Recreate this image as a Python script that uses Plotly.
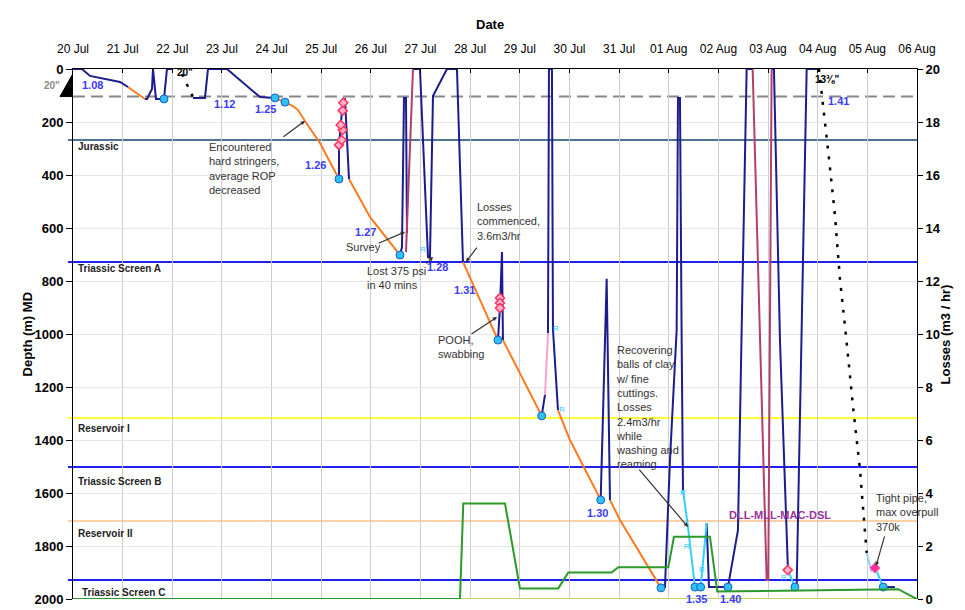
import plotly.graph_objects as go

YEAR = "2007-"


def ts(values):
    return [None if v is None else YEAR + v for v in values]


# ---------------- data ----------------
# bit position while tripping / circulating (navy)
trip_time = ts([
    "07-20 00:00", "07-20 04:21", "07-20 08:13", "07-20 13:03", "07-20 22:43", "07-21 02:35", None,
    "07-21 10:48", "07-21 11:46", "07-21 14:11", "07-21 14:40", "07-21 16:07", "07-21 19:59", "07-21 21:26", "07-22 00:20", None,
    "07-22 10:00", "07-22 15:48", "07-22 17:15", "07-23 02:26", "07-23 18:23", "07-24 01:38", None,
    "07-25 08:35", "07-25 08:36", "07-25 10:31", "07-25 11:29", "07-25 13:25", None,
    "07-26 14:04", "07-26 15:02", "07-26 16:00", "07-26 16:58", "07-26 17:27", None,
    "07-26 20:21", "07-26 23:44", "07-27 03:36", "07-27 04:34", "07-27 06:01", "07-27 12:47", "07-27 17:37", "07-27 20:31", None,
    "07-28 13:26", "07-28 14:24", "07-28 15:22", "07-28 15:51", None,
    "07-29 10:34", "07-29 12:10", None,
    "07-29 13:37", "07-29 14:05", "07-29 15:32", "07-29 16:01", "07-29 18:26", None,
    "07-30 15:05", "07-30 17:59", "07-30 19:35", None,
    "07-31 20:14", "07-31 22:10", "08-01 00:35", "08-01 03:49", "08-01 04:27", "08-01 05:25", "08-01 06:14", "08-01 06:52", None,
    "08-01 18:19", "08-01 19:26", "08-02 04:37", "08-02 09:27", "08-02 11:14", "08-02 13:39", "08-02 16:33", None,
    "08-03 01:44", "08-03 02:51", "08-03 05:45", "08-03 09:37", None,
    "08-03 13:00", "08-03 13:50", "08-03 16:14", "08-03 18:40", "08-04 00:36", None,
    "08-05 07:41", "08-05 13:20"])
trip_depth = [
    0, 0, 26, 34, 49, 68, None,
    113, 113, 75, 0, 113, 113, 0, 0, None,
    109, 109, 0, 0, 106, 109, None,
    415, 287, 113, 113, 415, None,
    702, 672, 109, 109, 619, None,
    0, 0, 709, 709, 102, 0, 0, 728, None,
    1023, 898, 691, 1023, None,
    1309, 1230, None,
    996, 0, 0, 981, 1287, None,
    1626, 792, 1626, None,
    1958, 1955, 1475, 985, 109, 109, 1023, 1589, None,
    1713, 1955, 1955, 1740, 985, 0, 0, None,
    0, 0, 1023, 1891, None,
    1955, 1955, 985, 0, 0, None,
    1955, 1955]

# drilling progress (orange)
drill_time = ts([
    "07-21 02:35", "07-21 10:48", None,
    "07-24 01:38", "07-24 06:29", "07-24 10:20", "07-24 12:46", "07-24 14:41", "07-24 16:08", "07-24 23:23", "07-25 08:35", None,
    "07-25 13:25", "07-25 23:34", "07-26 14:04", None,
    "07-27 03:36", "07-27 05:32", None,
    "07-27 20:31", "07-28 13:26", None,
    "07-28 15:51", "07-29 10:34", None,
    "07-29 18:26", "07-30 00:14", "07-30 15:05", None,
    "07-30 19:35", "07-31 00:25", "07-31 20:14"])
drill_depth = [
    68, 113, None,
    109, 125, 140, 155, 181, 196, 279, 415, None,
    415, 558, 702, None,
    709, 721, None,
    728, 1023, None,
    1023, 1309, None,
    1287, 1400, 1626, None,
    1626, 1702, 1958]

# logging runs (maroon)
log_time = ts(["07-26 16:58", "07-26 20:21", None,
               "08-02 16:33", "08-02 23:19", "08-03 00:06", "08-03 01:44"])
log_depth = [691, 0, None, 0, 1928, 1928, 0]

# reaming / washing (cyan)
ream_time = ts(["08-01 06:52", "08-01 09:17", "08-01 12:40", None,
                "08-01 15:25", "08-01 18:19", None,
                "08-03 09:37", "08-03 13:00", None,
                "08-05 04:38", "08-05 07:41"])
ream_depth = [1589, 1728, 1955, None, 1955, 1713, None, 1891, 1955, None, 1898, 1955]

wash_time = ts(["08-04 23:40", "08-05 02:05"])
wash_depth = [1826, 1898]

swab_time = ts(["07-29 12:10", "07-29 13:37"])
swab_depth = [1230, 996]

# casing runs (black dotted)
casing_time = ts(["07-22 04:41", "07-22 10:00", None,
                  "08-04 00:36", "08-04 01:55", "08-04 05:06", "08-04 08:20", "08-04 10:45",
                  "08-04 13:59", "08-04 17:11", "08-04 20:25", "08-04 22:50", "08-04 23:40"])
casing_depth = [19, 106, None, 0, 99, 312, 551, 792, 1030, 1283, 1509, 1736, 1826]

# bit run markers
bit_time = ts(["07-21 19:59", "07-24 01:38", "07-24 06:29", "07-25 08:35", "07-26 14:04", "07-28 13:26",
               "07-29 10:34", "07-30 15:05", "07-31 20:14", "08-01 12:40", "08-01 15:25", "08-02 04:37",
               "08-03 13:00", "08-05 07:41"])
bit_depth = [113, 109, 125, 415, 702, 1023, 1309, 1626, 1958, 1955, 1955, 1955, 1955, 1955]

# event flags (pink diamonds)
flag_time = ts(["07-25 08:35", "07-25 09:53", "07-25 10:22", "07-25 09:24", "07-25 10:22", "07-25 10:40",
                "07-28 14:24", "07-28 14:24", "07-28 14:24", "08-03 09:29"])
flag_depth = [287, 268, 230, 211, 157, 127, 864, 883, 902, 1891]
tight_time = ts(["08-05 03:40"])
tight_depth = [1883]

# losses (right axis)
loss_time = ts(["07-20 00:00", "07-27 19:04", "07-27 20:40", "07-28 16:50", "07-29 00:04", "07-29 18:35",
                "07-29 23:25", "07-30 20:24", "07-30 23:35", "07-31 23:46", "08-01 02:31", "08-01 19:55",
                "08-01 23:26", "08-05 14:56", "08-05 23:50"])
loss_rate = [0, 0, 3.6, 3.6, 0.4, 0.4, 1.0, 1.0, 1.2, 1.2, 2.35, 2.35, 0.28, 0.37, 0]

# bit run labels
run_labels = ["1.08", "1.12", "1.25", "1.26", "1.27", "1.28", "1.31", "1.30", "1.35", "1.40", "1.41"]
run_label_time = ts(["07-20 09:26", "07-23 01:00", "07-23 21:12", "07-24 21:28", "07-25 21:10", "07-27 08:26",
                     "07-27 21:29", "07-30 13:47", "08-01 13:29", "08-02 05:36", "08-04 09:56"])
run_label_depth = [60, 133, 152, 362, 614, 748, 834, 1677, 2000, 2000, 119]

# reaming flags "R"
r_time = ts(["07-27 01:11", "07-29 17:29", "07-29 20:22", "08-01 06:52", "08-01 08:40", "08-01 16:04", "08-03 07:42"])
r_depth = [683, 981, 1287, 1600, 1804, 1891, 1921]

# formations
formation_names = ["Jurassic", "Triassic Screen A", "Reservoir I", "Triassic Screen B", "Reservoir II", "Triassic Screen C"]
formation_depth = [268, 728, 1317, 1502, 1706, 1928]
formation_label_depth = [294, 751, 1358, 1558, 1751, 1974]
formation_colors = ["#4f7394", "#2020f0", "#ffff33", "#2020f0", "#ffcfa8", "#2020f0"]
shoe_depth = 104
td_depth = 2000

# notes: text, text time, text depth, tail time, tail depth, head time, head depth
notes = [
    ("Encountered<br>hard stringers,<br>average ROP<br>decreased", "07-22 16:47", 377, "07-24 05:02", 260, "07-24 16:08", 196),
    ("Survey", "07-25 11:00", 672, "07-26 02:57", 660, "07-26 16:29", 615),
    ("Lost 375 psi<br>in 40 mins", "07-25 21:09", 789, "07-27 02:10", 740, "07-27 06:01", 709),
    ("Losses<br>commenced,<br>3.6m3/hr", "07-28 02:20", 574, "07-28 03:47", 668, "07-27 21:58", 728),
    ("POOH,<br>swabbing", "07-27 07:28", 1049, "07-27 23:54", 1004, "07-28 12:58", 936),
    ("Recovering<br>balls of clay<br>w/ fine<br>cuttings.<br>Losses<br>2.4m3/hr<br>while<br>washing and<br>reaming",
     "07-30 21:40", 1277, "07-31 09:07", 1506, "08-01 09:17", 1728),
    ("Tight pipe,<br>max overpull<br>370k", "08-05 03:12", 1672, "08-05 08:31", 1758, "08-05 04:11", 1875),
]

# ---------------- figure ----------------
for arr_t, arr_d in [(trip_time, trip_depth), (drill_time, drill_depth), (log_time, log_depth),
                     (ream_time, ream_depth), (casing_time, casing_depth), (bit_time, bit_depth),
                     (flag_time, flag_depth), (loss_time, loss_rate), (run_label_time, run_label_depth),
                     (r_time, r_depth)]:
    assert len(arr_t) == len(arr_d), (len(arr_t), len(arr_d))

fig = go.Figure()

fig.add_trace(go.Scatter(x=loss_time, y=loss_rate, yaxis="y2", mode="lines",
                         line=dict(color="#2a9a2a", width=2), hoverinfo="skip"))
fig.add_trace(go.Scatter(x=drill_time, y=drill_depth, mode="lines",
                         line=dict(color="#ff7a1f", width=2), connectgaps=False))
fig.add_trace(go.Scatter(x=trip_time, y=trip_depth, mode="lines",
                         line=dict(color="#1c1c8c", width=2), connectgaps=False))
fig.add_trace(go.Scatter(x=log_time, y=log_depth, mode="lines",
                         line=dict(color="#b0406e", width=2), connectgaps=False))
fig.add_trace(go.Scatter(x=swab_time, y=swab_depth, mode="lines",
                         line=dict(color="#ff9fcc", width=2)))
fig.add_trace(go.Scatter(x=ream_time, y=ream_depth, mode="lines",
                         line=dict(color="#33d0ff", width=2), connectgaps=False))
fig.add_trace(go.Scatter(x=wash_time, y=wash_depth, mode="lines",
                         line=dict(color="#99ccff", width=2)))
fig.add_trace(go.Scatter(x=casing_time, y=casing_depth, mode="lines",
                         line=dict(color="black", width=2.5, dash="3px,8px"), connectgaps=False))
fig.add_trace(go.Scatter(x=r_time, y=r_depth, mode="text", text=["R"] * len(r_time),
                         textfont=dict(color="#33ccff", size=8, family="Liberation Sans"), cliponaxis=False))
fig.add_trace(go.Scatter(x=flag_time, y=flag_depth, mode="markers",
                         marker=dict(symbol="diamond", size=7, color="#ffb3c8",
                                     line=dict(color="#ff3366", width=1.5))))
fig.add_trace(go.Scatter(x=tight_time, y=tight_depth, mode="markers",
                         marker=dict(symbol="diamond", size=8, color="#ff3399",
                                     line=dict(color="#ff66aa", width=1))))
fig.add_trace(go.Scatter(x=bit_time, y=bit_depth, mode="markers", cliponaxis=False,
                         marker=dict(symbol="circle", size=8, color="#2fc0f5",
                                     line=dict(color="#1a5fc8", width=1))))

shapes = []
annotations = []
for name, d, ld, c in zip(formation_names, formation_depth, formation_label_depth, formation_colors):
    shapes.append(dict(type="line", xref="paper", yref="y", x0=-0.006, x1=1, y0=d, y1=d,
                       line=dict(color=c, width=2), layer="between"))
    annotations.append(dict(xref="paper", yref="y", x=0.003 if name != "Triassic Screen C" else 0.008,
                            y=ld, text="<b>%s</b>" % name, showarrow=False, xanchor="left",
                            yanchor="middle", font=dict(size=10, color="#222")))
shapes.append(dict(type="line", xref="paper", yref="y", x0=0, x1=1, y0=shoe_depth, y1=shoe_depth,
                   line=dict(color="#888888", width=2, dash="12px,6px"), layer="between"))
shapes.append(dict(type="line", xref="paper", yref="y", x0=0, x1=1, y0=td_depth, y1=td_depth,
                   line=dict(color="#c2cf63", width=2), layer="between"))
shapes.append(dict(type="path", xref="paper", yref="y",
                   path="M -0.0154,%d L -0.0010,%d L -0.0010,23 Z" % (shoe_depth, shoe_depth),
                   fillcolor="black", line=dict(color="black", width=1), layer="above"))

for lab, t, d in zip(run_labels, run_label_time, run_label_depth):
    annotations.append(dict(x=t, y=d, text="<b>%s</b>" % lab, showarrow=False,
                            font=dict(size=11, color="#3a3aff")))

for text, tt, td, at, ad, ht, hd in notes:
    annotations.append(dict(x=YEAR + tt, y=td, text=text, showarrow=False, xanchor="left",
                            yanchor="middle", align="left", font=dict(size=11, color="#333")))
    annotations.append(dict(x=YEAR + ht, y=hd, ax=YEAR + at, ay=ad, axref="x", ayref="y", text="",
                            showarrow=True, arrowhead=2, arrowsize=0.7, arrowwidth=1.2,
                            arrowcolor="#333"))

annotations += [
    dict(x=YEAR + "08-03 05:47", y=1683, text="<b>DLL-MLL-MAC-DSL</b>", showarrow=False,
         font=dict(size=11, color="#993399")),
    dict(x=YEAR + "08-03 21:43", y=39, text="<b>13⅜\"</b>", showarrow=False, xanchor="left",
         font=dict(size=10, color="black")),
    dict(x=YEAR + "07-22 06:08", y=14, text="<b>20\"</b>", showarrow=False,
         font=dict(size=10, color="black")),
    dict(xref="paper", yref="y", x=-0.013, y=64, text="<b>20\"</b>", showarrow=False, xanchor="right",
         font=dict(size=10, color="#888")),
    dict(xref="paper", yref="paper", x=0.494, y=1.102, text="<b>Date</b>", showarrow=False,
         font=dict(size=13, color="black")),
    dict(xref="paper", yref="paper", x=-0.0652, y=0.5, text="<b>Depth (m) MD</b>", showarrow=False,
         textangle=-90, font=dict(size=13, color="black")),
    dict(xref="paper", yref="paper", x=1.045, y=0.5, text="<b>Losses (m3 / hr)</b>", showarrow=False,
         textangle=-90, font=dict(size=13, color="black")),
]

fig.update_layout(
    width=965, height=610, margin=dict(l=73, r=48, t=69, b=11, autoexpand=False),
    paper_bgcolor="white", plot_bgcolor="white", showlegend=False,
    font=dict(family="Liberation Sans, Arial, sans-serif", size=12, color="black"),
    xaxis=dict(type="date", side="top", range=[YEAR + "07-20", YEAR + "08-06"], tick0=YEAR + "07-20",
               dtick=86400000, tickformat="%d %b", ticks="inside", ticklen=4, tickcolor="black",
               showline=True, linecolor="black", linewidth=1, showgrid=True, gridcolor="#cdcdcd",
               zeroline=False, tickfont=dict(size=12), ticklabelstandoff=10, automargin=False),
    yaxis=dict(range=[2000, 0], dtick=200, ticks="outside", ticklen=6, tickcolor="black",
               showline=True, linecolor="black", showgrid=True, gridcolor="#e6e6e6", zeroline=False,
               tickfont=dict(size=13, weight="bold"), automargin=False),
    yaxis2=dict(range=[0, 20], dtick=2, overlaying="y", side="right", ticks="outside", ticklen=5,
                tickcolor="black", showline=True, linecolor="black", showgrid=False, zeroline=False,
                tickfont=dict(size=13, weight="bold"), automargin=False),
    shapes=shapes, annotations=annotations,
)

fig.write_html("out.html", config={"displayModeBar": False},
               post_script="document.body.style.margin='0';document.body.style.overflow='hidden';")
